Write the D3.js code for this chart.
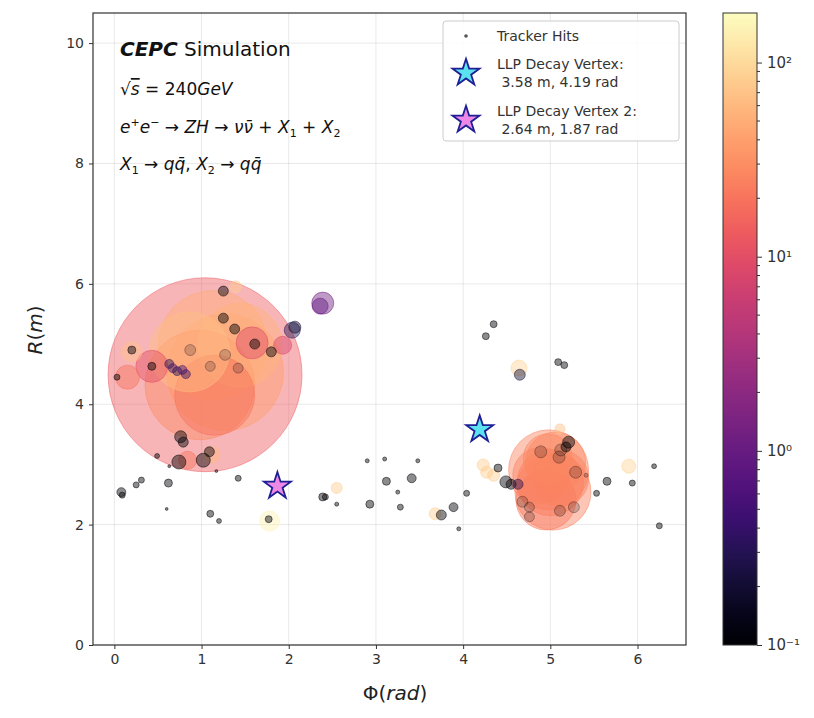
<!DOCTYPE html>
<html><head><meta charset="utf-8">
<script src="https://cdn.jsdelivr.net/npm/d3@7"></script>
<style>body{margin:0;background:#fff}svg{display:block}text{font-family:"DejaVu Sans",sans-serif}</style>
</head><body><svg id="c" width="814" height="718"></svg>
<script>
// ---- data: [phi (rad), R (m), energy, marker area] ----
const leftClusterHits = [
  [1.04,4.49,13,9400],[1.27,4.53,40,3400],[1.13,4.98,50,3000],[0.98,4.32,30,3000],
  [1.15,4.15,20,1600],[1.44,4.98,55,1760],[0.86,4.87,65,1600],
  [1.58,5.02,9,256],[0.43,4.63,10,256],[1.93,4.98,8,81],[0.15,4.45,20,144],[0.20,4.87,70,100],
  [1.39,5.95,80,36],[1.12,3.16,60,64],[0.84,3.07,20,81],
  [1.25,5.88,0.1,25],[1.25,5.43,0.1,25],[1.38,5.25,0.1,25],[1.61,5.00,0.1,25],[1.80,4.87,0.1,25],
  [2.04,5.23,0.3,64],[2.07,5.28,0.2,36],[0.20,4.90,0.1,16],[0.03,4.45,0.1,9],[0.43,4.63,0.1,16],
  [0.63,4.67,0.3,20],[0.67,4.60,0.5,20],[0.72,4.55,0.3,20],[0.78,4.57,0.5,20],[0.82,4.50,0.4,20],
  [0.76,3.46,0.1,36],[0.79,3.37,0.1,25],[0.74,3.04,0.1,49],[1.02,3.07,0.1,49],[1.09,3.21,0.1,25],
  [0.49,3.14,0.1,6],[0.63,2.97,0.1,2],[1.17,2.89,0.1,2],
  [2.39,5.68,1.2,121],[2.36,5.63,0.9,64]
];
const faintHits = [
  [0.87,4.90,0.15,30],[1.27,4.82,0.15,30],[1.10,4.63,0.15,25],[1.42,4.60,0.15,25],
  [4.89,3.21,0.1,36],[5.12,3.24,0.1,36],[5.10,3.12,0.1,36],[5.29,2.87,0.1,36],[5.41,2.82,0.1,4],
  [4.68,2.38,0.1,30],[4.76,2.29,0.1,25],[4.76,2.13,0.1,25],[5.11,2.23,0.1,30],[5.27,2.29,0.1,30]
];
const bandHits = [
  [0.08,2.54,0.1,20],[0.09,2.49,0.1,9],[0.25,2.66,0.1,9],[0.31,2.74,0.1,9],[0.62,2.69,0.1,16],
  [0.60,2.26,0.1,2],[1.10,2.18,0.1,12],[1.20,2.06,0.1,6],[1.42,2.77,0.1,9],
  [1.78,2.06,150,100],[1.77,2.09,0.1,12],[2.39,2.46,0.1,16],[2.42,2.46,0.1,9],[2.55,2.61,80,30],
  [2.55,2.34,0.1,4],[2.90,3.06,0.1,4],[2.93,2.34,0.1,16],[3.10,3.09,0.1,4],[3.12,2.72,0.1,16],
  [3.25,2.54,0.1,4],[3.28,2.29,0.1,9],[3.41,2.77,0.1,20],[3.48,3.06,0.1,4],[3.68,2.18,80,36],
  [3.75,2.16,0.1,25],[3.89,2.29,0.1,20],[3.95,1.93,0.1,4],[4.04,2.52,0.1,9],
  [4.23,2.99,80,36],[4.27,2.87,80,36],[4.35,2.82,80,36],[4.40,2.94,0.1,16],
  [4.35,5.33,0.1,12],[4.26,5.13,0.1,12],[4.64,4.60,90,64],[4.65,4.49,0.2,30],
  [5.09,4.70,0.1,12],[5.16,4.65,0.1,12],[5.11,3.59,70,25],
  [5.65,2.72,0.1,16],[5.53,2.52,0.1,9],[5.90,2.97,90,49],[5.94,2.69,0.1,9],[6.19,2.97,0.1,6],[6.25,1.98,0.1,9]
];
const rightClusterHits = [
  [4.98,2.91,26,1600],[5.03,2.54,24,1444],[4.95,2.41,22,900],[5.06,3.04,28,900],
  [5.12,2.77,26,780],[4.89,2.82,25,780],[5.00,2.70,24,1100],[4.97,3.10,27,600],
  [5.21,3.37,0.1,36],[5.18,3.29,0.1,25],[4.49,2.71,0.1,36],[4.55,2.67,0.1,25],[4.63,2.67,0.3,25]
];
const vertices = [
  {label:["LLP Decay Vertex:"," 3.58 m, 4.19 rad"], phi:4.19, r:3.58, fill:"#5ae3ee"},
  {label:["LLP Decay Vertex 2:"," 2.64 m, 1.87 rad"], phi:1.87, r:2.64, fill:"#ee88e6"}
];
const xTicks = [0,1,2,3,4,5,6];
const yTicks = [0,2,4,6,8,10];
const cbTicks = [0.1,1,10,100];
const cbTickLabels = ["10\u207B\u00B9","10\u2070","10\u00B9","10\u00B2"];

// ---- layout ----
const svg = d3.select("#c");
const L=93,R=686,T=13,B=645;
const x = d3.scaleLinear([-0.245,6.556],[L,R]);
const y = d3.scaleLinear([0,10.5],[B,T]);
const color = d3.scaleSequentialLog(d3.interpolateMagma).domain([0.1,180]);
const rad = d3.scaleSqrt([0,10000],[0,100]);

// grid
const g = svg.append("g");
g.selectAll(".gx").data(xTicks).join("line").attr("x1",d=>x(d)).attr("x2",d=>x(d)).attr("y1",T).attr("y2",B)
  .attr("stroke","#b0b0b0").attr("stroke-opacity",0.35).attr("stroke-width",0.8);
g.selectAll(".gy").data(yTicks).join("line").attr("y1",d=>y(d)).attr("y2",d=>y(d)).attr("x1",L).attr("x2",R)
  .attr("stroke","#b0b0b0").attr("stroke-opacity",0.35).attr("stroke-width",0.8);

// clip
svg.append("clipPath").attr("id","pc").append("rect").attr("x",L).attr("y",T).attr("width",R-L).attr("height",B-T);
const plot = svg.append("g").attr("clip-path","url(#pc)");
const all = [...leftClusterHits,...rightClusterHits,...bandHits].sort((a,b)=>b[3]-a[3]);
plot.selectAll("circle.h").data(all).join("circle").attr("class","h")
  .attr("cx",d=>x(d[0])).attr("cy",d=>y(d[1])).attr("r",d=>rad(d[3]))
  .attr("fill",d=>color(d[2])).attr("fill-opacity",0.45)
  .attr("stroke",d=>color(d[2])).attr("stroke-opacity",0.5).attr("stroke-width",1);
plot.selectAll("circle.f").data(faintHits).join("circle").attr("class","f")
  .attr("cx",d=>x(d[0])).attr("cy",d=>y(d[1])).attr("r",d=>rad(d[3]))
  .attr("fill",d=>color(d[2])).attr("fill-opacity",0.18)
  .attr("stroke",d=>color(d[2])).attr("stroke-opacity",0.3).attr("stroke-width",1);

// stars
const star = d3.symbol().type(d3.symbolStar).size(225);
svg.append("g").selectAll("path").data(vertices).join("path")
  .attr("d",star).attr("transform",d=>`translate(${x(d.phi)},${y(d.r)})`)
  .attr("fill",d=>d.fill).attr("stroke","#1f1f95").attr("stroke-width",1.8);

// axes
const ax = svg.append("g").attr("transform",`translate(0,${B})`).call(d3.axisBottom(x).tickValues(xTicks).tickFormat(d3.format("d")).tickSize(4).tickPadding(5));
const ay = svg.append("g").attr("transform",`translate(${L},0)`).call(d3.axisLeft(y).tickValues(yTicks).tickFormat(d3.format("d")).tickSize(4).tickPadding(5));
[ax,ay].forEach(a=>{a.select(".domain").remove();a.selectAll("text").attr("font-size",14).attr("fill","#333").attr("font-family","DejaVu Sans");a.selectAll("line").attr("stroke","#333");});
svg.append("rect").attr("x",L).attr("y",T).attr("width",R-L).attr("height",B-T).attr("fill","none").attr("stroke","#333").attr("stroke-width",1.2);

// axis labels
svg.append("text").attr("x",395).attr("y",700).attr("text-anchor","middle").attr("font-size",20).attr("fill","#222")
  .html('Φ(<tspan font-style="italic">rad</tspan>)');
svg.append("text").attr("transform","translate(42,330) rotate(-90)").attr("text-anchor","middle").attr("font-size",20).attr("fill","#222")
  .html('<tspan font-style="italic">R</tspan>(<tspan font-style="italic">m</tspan>)');

// annotation text
svg.append("text").attr("x",120).attr("y",56).attr("font-size",20).attr("fill","#111")
  .html('<tspan font-weight="bold" font-style="italic">CEPC</tspan> Simulation');
const m = svg.append("g").attr("font-size",17).attr("fill","#111");
m.append("text").attr("x",120).attr("y",95)
  .html('√<tspan font-style="italic" text-decoration="overline">s</tspan> = 240<tspan font-style="italic">GeV</tspan>');
m.append("text").attr("x",120).attr("y",133)
  .html('<tspan font-style="italic">e</tspan><tspan font-size="11" dy="-7">+</tspan><tspan font-style="italic" dy="7">e</tspan><tspan font-size="11" dy="-7">−</tspan><tspan dy="7"> → </tspan><tspan font-style="italic">ZH</tspan> → <tspan font-style="italic">νν̄</tspan> + <tspan font-style="italic">X</tspan><tspan font-size="11" dy="4">1</tspan><tspan dy="-4"> + </tspan><tspan font-style="italic">X</tspan><tspan font-size="11" dy="4">2</tspan>');
m.append("text").attr("x",120).attr("y",170)
  .html('<tspan font-style="italic">X</tspan><tspan font-size="11" dy="4">1</tspan><tspan dy="-4"> → </tspan><tspan font-style="italic">qq̄</tspan>, <tspan font-style="italic">X</tspan><tspan font-size="11" dy="4">2</tspan><tspan dy="-4"> → </tspan><tspan font-style="italic">qq̄</tspan>');

// legend
const lg = svg.append("g");
lg.append("rect").attr("x",443).attr("y",21).attr("width",236).attr("height",120).attr("rx",3)
  .attr("fill","#fff").attr("fill-opacity",0.85).attr("stroke","#ccc");
lg.append("circle").attr("cx",466).attr("cy",36).attr("r",1.8).attr("fill","#555");
lg.append("text").attr("x",497).attr("y",41).attr("font-size",14).attr("fill","#333").text("Tracker Hits");
vertices.forEach((v,i)=>{
  const cy = 73 + i*47;
  lg.append("path").attr("d",star).attr("transform",`translate(466,${cy})`).attr("fill",v.fill).attr("stroke","#1f1f95").attr("stroke-width",1.8);
  v.label.forEach((t,j)=>lg.append("text").attr("x",497).attr("y",cy-4+j*18).attr("font-size",14).attr("fill","#333").attr("xml:space","preserve").text(t));
});

// colorbar
const cbx=723, cbw=34;
const cy = d3.scaleLog([0.1,180],[B,T]);
const defs = svg.append("defs");
const grad = defs.append("linearGradient").attr("id","cg").attr("x1",0).attr("y1",1).attr("x2",0).attr("y2",0);
d3.range(0,1.0001,0.05).forEach(t=>grad.append("stop").attr("offset",t).attr("stop-color",d3.interpolateMagma(t)));
svg.append("rect").attr("x",cbx).attr("y",T).attr("width",cbw).attr("height",B-T).attr("fill","url(#cg)").attr("stroke","#333").attr("stroke-width",1);
const minor=[];
[0.1,1,10,100].forEach(d=>{for(let k=2;k<=9;k++){const v=d*k; if(v<=180) minor.push(v);}});
svg.append("g").selectAll("line").data(minor).join("line").attr("x1",cbx+cbw).attr("x2",cbx+cbw+3)
  .attr("y1",d=>cy(d)).attr("y2",d=>cy(d)).attr("stroke","#333");
const cbax = svg.append("g").attr("transform",`translate(${cbx+cbw},0)`).call(d3.axisRight(cy).tickValues(cbTicks).tickFormat((d,i)=>cbTickLabels[i]).tickSize(5).tickPadding(5));
cbax.select(".domain").remove();
cbax.selectAll("text").attr("font-size",15).attr("fill","#333");
cbax.selectAll("line").attr("stroke","#333");
</script></body></html>
